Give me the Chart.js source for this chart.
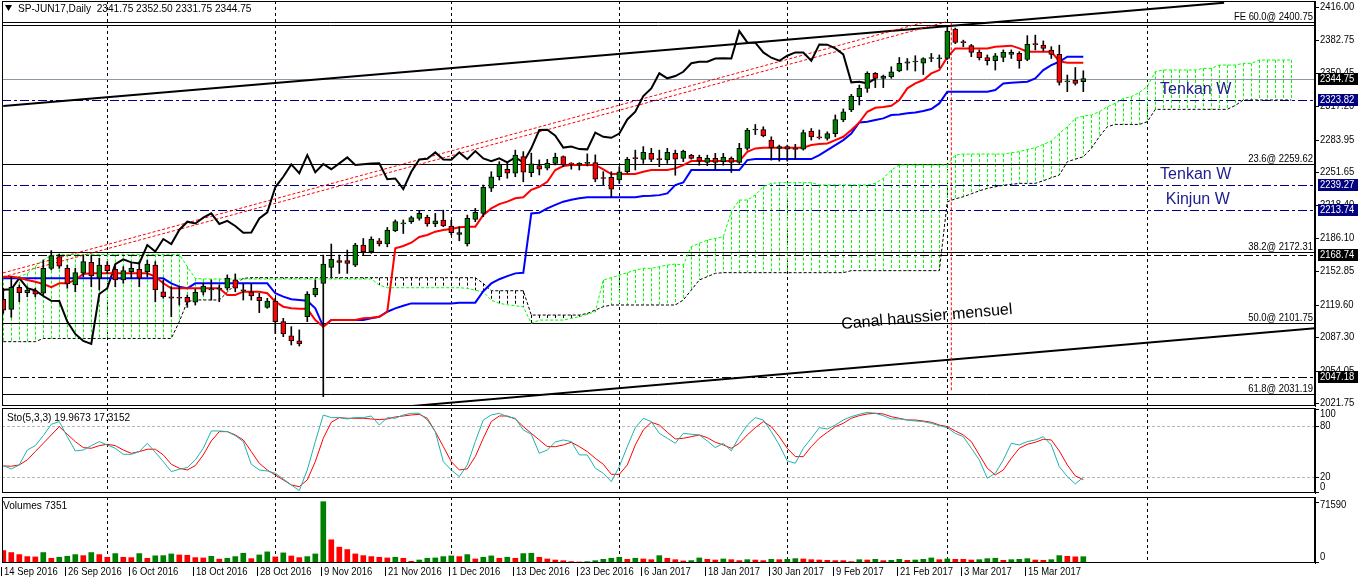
<!DOCTYPE html>
<html>
<head>
<meta charset="utf-8">
<title>SP-JUN17 Daily</title>
<script src="https://cdn.jsdelivr.net/npm/chart.js@4.4.1/dist/chart.umd.min.js"></script>
<style>
  html, body { margin: 0; padding: 0; background: #fff; }
  #wrap { position: relative; width: 1358px; height: 584px; overflow: hidden; background: #fff; }
  #wrap canvas { position: absolute; left: 0; }
</style>
</head>
<body>
<div id="wrap">
  <canvas id="priceChart" width="1358" height="407" style="top:0px"></canvas>
  <canvas id="stochChart" width="1358" height="87" style="top:407px"></canvas>
  <canvas id="volumeChart" width="1358" height="90" style="top:494px"></canvas>
</div>
<script>
//daily candles, bar 0 = 14 Sep 2016, bar 135 = 24 Mar 2017
const open = [
  2125, 2115, 2137, 2131.5, 2133.5, 2131, 2155.75, 2167.5, 2155.75, 2139.25,
  2151, 2161.75, 2146, 2159, 2154.75, 2144.25, 2152.5, 2154.75, 2152.5, 2159,
  2132.5, 2127.5, 2126.5, 2127, 2122, 2132, 2134.25, 2135, 2136, 2144.25,
  2133.5, 2132.5, 2127, 2117, 2123.25, 2102.75, 2088.5, 2083.75, 2107.75, 2129.25,
  2140.75, 2156.75, 2163.5, 2163.5, 2159, 2179, 2172.5, 2183.25, 2180, 2193.25,
  2200, 2202.25, 2205.5, 2206.5, 2200, 2203.75, 2198, 2189.5, 2180, 2204.5,
  2210.5, 2235.5, 2247, 2254.5, 2250.5, 2267, 2251, 2258, 2255.5, 2260.25,
  2267, 2259.75, 2258.75, 2260.25, 2261, 2245.5, 2246.5, 2243.75, 2252, 2265.25,
  2264.25, 2270.25, 2264.25, 2263.75, 2270.25, 2265.25, 2268.5, 2266.25, 2261.25, 2265.25,
  2262, 2265.25, 2261.25, 2275.25, 2293.5, 2294, 2283.5, 2275.25, 2277, 2274.5,
  2274.5, 2292.5, 2286, 2285.25, 2290, 2303.5, 2313.5, 2326.75, 2335, 2350,
  2345, 2346.5, 2352.25, 2360, 2361.25, 2360, 2364.75, 2364.5, 2364.75, 2394,
  2380.75, 2377.5, 2370.75, 2365.75, 2362.5, 2365.75, 2368.75, 2369.75, 2363.75, 2378.75,
  2378, 2373, 2368.75, 2341.5, 2343.25, 2341.75
];
const high = [
  2136, 2147.5, 2139.25, 2137.5, 2136, 2164, 2173.5, 2170, 2159, 2155.75,
  2169, 2169, 2165.75, 2162.5, 2157.5, 2157.5, 2160.75, 2162.5, 2164, 2162.5,
  2144.25, 2137.5, 2137.5, 2129.25, 2135, 2141, 2144.25, 2139.25, 2149.25, 2150.25,
  2140.75, 2140.75, 2131, 2126, 2126, 2106, 2097.75, 2094.5, 2132.5, 2144.25,
  2169, 2180, 2169, 2174, 2180.75, 2185.5, 2187.25, 2185.5, 2196.5, 2204,
  2204, 2207.75, 2213.25, 2208.75, 2210.5, 2213.75, 2203.75, 2197.25, 2208.75, 2215.5,
  2238.75, 2252, 2262, 2262, 2273.5, 2272, 2270.5, 2263.75, 2264.25, 2270.5,
  2267.75, 2261, 2261, 2269.75, 2268.75, 2252, 2252, 2257, 2266.25, 2273.5,
  2277, 2275.25, 2273.5, 2275.25, 2273.5, 2273.5, 2269.25, 2268.5, 2268.5, 2270.25,
  2270.25, 2266.75, 2280.25, 2295.25, 2299, 2296.75, 2286.75, 2278.5, 2278.5, 2279.25,
  2293.5, 2295, 2293.5, 2291.75, 2308.5, 2314.5, 2329, 2338.25, 2351.5, 2350.75,
  2348.25, 2356.5, 2365.75, 2364.75, 2367.5, 2365.5, 2369.75, 2368.25, 2397, 2395,
  2383, 2378.75, 2373.25, 2368.25, 2369.75, 2373.25, 2373.25, 2371.5, 2387.5, 2388,
  2382.25, 2376.5, 2378, 2348.25, 2355.75, 2352.5
];
const low = [
  2111, 2107, 2122.5, 2127.5, 2127.5, 2129.25, 2154.25, 2155.75, 2136, 2132.5,
  2147.5, 2137.5, 2134.25, 2150.75, 2137.5, 2141, 2146, 2137.5, 2147.5, 2122.5,
  2126, 2107.75, 2119.25, 2117, 2119.25, 2129.25, 2124.25, 2122.5, 2134.25, 2132.5,
  2124.25, 2124.25, 2111.75, 2116, 2091, 2087.75, 2079.5, 2078.5, 2102.75, 2127.5,
  2028, 2147.5, 2150.75, 2150.75, 2157.5, 2169, 2170.75, 2178, 2177.25, 2192.25,
  2190.5, 2200.5, 2203.75, 2197.75, 2197.25, 2197.25, 2189, 2183.25, 2178, 2202.25,
  2207.25, 2232.25, 2243.75, 2245.5, 2247, 2242, 2247, 2248.75, 2253.75, 2258.75,
  2257, 2254.5, 2253.75, 2257.75, 2242, 2238.75, 2226.5, 2240.5, 2250.5, 2253.75,
  2260.25, 2262, 2257, 2260.25, 2248.5, 2262, 2264.5, 2258.5, 2258, 2253.75,
  2258.5, 2251.25, 2260.25, 2273.5, 2289, 2286.75, 2263.5, 2262.5, 2262.5, 2264.5,
  2273.5, 2283.5, 2284.5, 2283.5, 2286.75, 2301.75, 2311.75, 2318.5, 2331, 2335.75,
  2335.75, 2345, 2351.5, 2353.25, 2352.25, 2348.75, 2361.5, 2355.5, 2363.75, 2379.5,
  2376.5, 2366.5, 2363.25, 2358.25, 2353.25, 2361.5, 2364.75, 2355, 2362.5, 2373.25,
  2372.25, 2364.75, 2338.25, 2331.75, 2338.25, 2331.75
];
const close = [
  2114.25, 2137, 2131.5, 2134.25, 2130, 2155.75, 2168.5, 2158, 2140.25, 2151.5,
  2162.5, 2148.25, 2159, 2153.5, 2144.25, 2153.5, 2155.75, 2146, 2160, 2134.25,
  2127.5, 2126, 2126, 2122, 2132, 2138.25, 2134.5, 2135, 2146, 2136,
  2133.75, 2128.25, 2123.5, 2123.25, 2102.75, 2090.5, 2083.5, 2080.5, 2130.25, 2136,
  2160, 2164.75, 2161.75, 2160.75, 2179, 2172.5, 2185, 2180, 2194, 2202.25,
  2200.5, 2206.25, 2210.5, 2200, 2203, 2198, 2191.25, 2191.5, 2205.5, 2211.5,
  2236.5, 2247, 2259.25, 2250.5, 2268.5, 2251.5, 2259.75, 2254.5, 2260.25, 2266.25,
  2258.75, 2259.5, 2260.25, 2260.5, 2244.5, 2245.25, 2234.75, 2252, 2264.25, 2265,
  2271.25, 2264.25, 2264, 2271.25, 2264.5, 2272.5, 2265.25, 2262.5, 2265.25, 2261.25,
  2266.25, 2261.25, 2275.25, 2293.5, 2293.75, 2287.75, 2276, 2277, 2274.5, 2274.25,
  2291, 2286.75, 2285.75, 2290, 2304, 2311.75, 2327.25, 2335, 2350, 2345,
  2347.25, 2351.5, 2360, 2361.5, 2361.5, 2364.75, 2365, 2364.75, 2392, 2380.75,
  2380.5, 2370.75, 2365.5, 2362.5, 2367.5, 2370.75, 2370.75, 2362.5, 2378.75, 2378.5,
  2374.75, 2368.75, 2341, 2341.5, 2340, 2344.75
];

//ichimoku lines
const tenkan = [
  2147.5, 2147.5, 2146.5, 2144.2, 2142.5, 2140.2, 2137, 2140.9, 2140.9, 2144.2,
  2150.2, 2150.8, 2150.8, 2150.8, 2150.8, 2150.8, 2150.8, 2150.8, 2150.8, 2147.5,
  2140.9, 2135.9, 2135.9, 2135.9, 2135.9, 2135.9, 2135.9, 2135.9, 2129.3, 2129.3,
  2132.6, 2132.6, 2132.6, 2131, 2122.6, 2117.6, 2116, 2115.5, 2115.5, 2104.4,
  2097.7, 2104.4, 2104.4, 2104.4, 2104.4, 2106, 2106.5, 2107.6, 2112.6, 2175.7,
  2178, 2181.3, 2187, 2189, 2192.3, 2194, 2195, 2196.6, 2197.3, 2197.3,
  2208.9, 2215.5, 2219.8, 2222.2, 2225.5, 2226.5, 2234, 2237, 2242, 2253.7,
  2257.7, 2258.7, 2258.7, 2258.7, 2258.7, 2254.4, 2249.7, 2249.7, 2249.7, 2249.7,
  2252, 2253.7, 2253.7, 2253.7, 2255.3, 2258.6, 2262.6, 2262.6, 2262.6, 2262.6,
  2262.6, 2262.6, 2262.6, 2271.9, 2275.2, 2275.9, 2275.9, 2275.9, 2275.9, 2275.9,
  2275.9, 2278.5, 2279.5, 2280.2, 2283.5, 2286.8, 2293.5, 2301.1, 2311.7, 2315.7,
  2316.5, 2317.7, 2323.3, 2335, 2339.9, 2343.3, 2349.9, 2353.2, 2366, 2374.8,
  2374.8, 2374.8, 2374.8, 2374.8, 2376.5, 2377, 2377.5, 2374.8, 2371.5, 2371.5,
  2371.5, 2371.5, 2362, 2360.5, 2360.5, 2360.5
];
const kijun = [
  2145.9, 2145.9, 2145.9, 2145.9, 2145.9, 2145.9, 2145.9, 2145.9, 2145.9, 2145.9,
  2145.9, 2145.9, 2145.9, 2145.9, 2145.9, 2145.9, 2145.9, 2145.9, 2145.9, 2145.9,
  2145.9, 2140.9, 2137.6, 2135.9, 2140.9, 2140.9, 2140.9, 2140.9, 2140.9, 2140.9,
  2140.9, 2140.9, 2140.9, 2140.9, 2131, 2127.6, 2125, 2124.3, 2123.6, 2116,
  2097.7, 2104.4, 2104.4, 2104.4, 2104.4, 2104.4, 2106, 2107.6, 2112.6, 2115.9,
  2118.5, 2120.9, 2120.9, 2120.9, 2120.9, 2120.9, 2120.9, 2121.6, 2121.6, 2121.6,
  2133, 2140.8, 2145, 2148, 2150.8, 2151.4, 2210.5, 2211.2, 2215.5, 2219,
  2222.2, 2224, 2225.5, 2226.5, 2226.5, 2226.5, 2226.5, 2226.5, 2226.5, 2226.5,
  2227.8, 2228, 2228.7, 2230.4, 2238.7, 2241.3, 2253.6, 2253.6, 2253.6, 2253.6,
  2253.6, 2253.6, 2253.6, 2263.6, 2264.6, 2264.6, 2264.6, 2264.6, 2264.6, 2264.6,
  2264.6, 2264.6, 2268.6, 2273.5, 2278.5, 2283.5, 2290.1, 2301.1, 2301.8, 2303.5,
  2305.1, 2308.4, 2309, 2310.1, 2311, 2312.5, 2314.4, 2320, 2331.6, 2331.6,
  2331.6, 2331.6, 2331.6, 2331.6, 2333.3, 2339.9, 2340.5, 2341, 2341.6, 2344.9,
  2353.2, 2358.2, 2361.5, 2366.5, 2366.5, 2366.5
];
//cloud, already shifted 26 bars forward (bars 0..161)
const senkouA = [
  2146.5, 2146.5, 2147.5, 2150.8, 2157.5, 2164.1, 2168.4, 2169.7, 2169.7, 2169.7,
  2169.7, 2169.7, 2169.7, 2169.7, 2169.7, 2169.7, 2169.7, 2169.7, 2169.7, 2169.7,
  2169.7, 2169.7, 2169.7, 2157.5, 2145.8, 2145.2, 2145.2, 2145.2, 2145.2, 2145.2,
  2145.2, 2145.2, 2145.2, 2145.2, 2145.2, 2145.2, 2145.2, 2145.2, 2145.2, 2145.2,
  2145.2, 2145.2, 2145.2, 2145.2, 2145.2, 2145.2, 2145.2, 2139.2, 2136.5, 2136.5,
  2136.5, 2136.5, 2136.5, 2136.5, 2136.5, 2136.5, 2136.5, 2136.5, 2135.9, 2134,
  2132.5, 2124, 2121, 2119.5, 2118.5, 2117.6, 2101, 2104.3, 2104.3, 2104.3,
  2104.3, 2106, 2107.6, 2110, 2112.6, 2144.2, 2146.5, 2149.1, 2151.5, 2154.1,
  2155.8, 2155.8, 2157.5, 2159, 2160.1, 2159.1, 2177.4, 2180.7, 2184, 2185.5,
  2187.3, 2212.2, 2223.8, 2223.8, 2228.8, 2237.1, 2240.4, 2241.1, 2241.1, 2241.1,
  2241.1, 2241.1, 2238.8, 2238.8, 2238.8, 2238.8, 2238.8, 2238.8, 2238.8, 2240.4,
  2245.4, 2253.7, 2258.7, 2258.7, 2258.7, 2258.7, 2258.7, 2258.7, 2258.7, 2268.6,
  2269.6, 2269.6, 2269.6, 2269.6, 2269.6, 2269.6, 2270.9, 2271.9, 2274.2, 2275.9,
  2279.2, 2282.5, 2290.2, 2296.8, 2305.1, 2307.4, 2308.4, 2311.8, 2316.7, 2320.1,
  2325, 2326.7, 2331, 2336.7, 2351.6, 2353.3, 2353.3, 2353.3, 2353.3, 2353.3,
  2354.9, 2354.9, 2358.2, 2358.2, 2358.2, 2359.9, 2359.9, 2363.2, 2363.2, 2363.2,
  2363.2, 2363.2
];
const senkouB = [
  2082.8, 2082.8, 2082.8, 2082.8, 2082.8, 2086, 2086, 2086, 2086, 2086,
  2086, 2086, 2086, 2086, 2086, 2086, 2086, 2086, 2086, 2086,
  2086, 2086, 2102.7, 2122.6, 2124.3, 2124.3, 2124.3, 2124.3, 2132, 2140,
  2145.8, 2146.5, 2146.5, 2146.5, 2146.5, 2146.5, 2146.5, 2146.5, 2146.5, 2146.5,
  2146.5, 2146.5, 2146.5, 2146.5, 2146.5, 2146.5, 2146.5, 2146.5, 2146.5, 2146.5,
  2146.5, 2146.5, 2146.5, 2146.5, 2146.5, 2146.5, 2146.5, 2146.5, 2146.5, 2146.5,
  2140.8, 2133.5, 2133.5, 2133.5, 2133.5, 2133.5, 2109.3, 2109.3, 2109.3, 2109.3,
  2109.3, 2109.3, 2109.3, 2110.9, 2114.3, 2117.6, 2119.3, 2119.3, 2119.3, 2119.3,
  2119.3, 2119.3, 2119.3, 2119.3, 2119.3, 2124.3, 2134.2, 2144.2, 2147.5, 2150.8,
  2151.5, 2151.5, 2151.5, 2151.5, 2151.5, 2151.5, 2151.5, 2151.5, 2151.5, 2151.5,
  2151.5, 2151.5, 2151.5, 2151.5, 2151.5, 2151.5, 2153.5, 2153.5, 2153.5, 2153.5,
  2153.5, 2153.5, 2153.5, 2153.5, 2153.5, 2153.5, 2153.5, 2153.5, 2222.1, 2225,
  2227.1, 2230, 2233, 2235.4, 2237, 2238.5, 2239.4, 2240.4, 2240.4, 2240.4,
  2243, 2246, 2248.7, 2262, 2264.5, 2266.9, 2275.2, 2286.9, 2296.8, 2299.1,
  2299.1, 2299.1, 2299.1, 2301.8, 2314.1, 2314.1, 2314.1, 2314.1, 2314.1, 2314.1,
  2314.1, 2314.1, 2314.1, 2314.1, 2318, 2323.4, 2323.4, 2323.4, 2323.4, 2323.4,
  2323.4, 2323.4
];

//stochastic (5,3,3)
const stochMain = [
  33.7, 29.8, 34.5, 52.1, 57.2, 69, 82.3, 85.5, 67.8, 51,
  52.1, 57.2, 62, 58, 54.1, 47, 47, 50.2, 60, 49.4,
  38.4, 26.7, 29.4, 31.4, 40.4, 54.1, 74.5, 74.5, 73.7, 69,
  62, 35.3, 28.6, 27.4, 24.7, 18, 11, 4.3, 28.6, 62,
  93.3, 90.2, 90.2, 88.6, 90.2, 90.2, 92.1, 81.5, 90.2, 89.4,
  93.3, 95.3, 95.3, 87.4, 73.7, 38.4, 28.6, 20.8, 34.5, 62,
  87.4, 93.3, 95.3, 91.3, 89.4, 75.7, 70.6, 48.2, 52.1, 61.5,
  63.9, 62, 46.3, 46.3, 30.6, 24.7, 14.9, 32.5, 56.1, 78.4,
  89.4, 85.5, 71.7, 65.9, 60, 71.7, 70.6, 69.8, 62.7, 54.9,
  60, 51, 67.8, 81.5, 90.2, 87.4, 73.7, 58, 39.2, 36.5,
  54.1, 65.9, 78.4, 76.8, 81.5, 87.4, 91.3, 94.1, 96.4, 95.3,
  92.5, 88.6, 88.6, 87.4, 86.2, 85.5, 83.5, 80.8, 78.4, 71.7,
  67.8, 54.1, 40.4, 18.8, 24.7, 40.4, 60, 58, 62, 63.9,
  67.8, 58, 32.5, 20.8, 12.2, 19.97
];
const stochSignal = [
  33.3, 33, 34.5, 40.4, 50.2, 60, 69.8, 79.6, 70.6, 62,
  54.9, 54.1, 57.2, 58.8, 57.2, 52.1, 48.2, 50.2, 53, 53,
  46.3, 35.3, 30.6, 28.6, 33.7, 46.3, 62.7, 73.7, 73.7, 69.8,
  63.9, 50.2, 36.5, 28.6, 22.7, 16.9, 11, 9, 16.9, 38.4,
  65.9, 84.7, 90.2, 89.4, 89.4, 89.4, 88.6, 87.8, 88.6, 91,
  92.1, 93.3, 94.1, 89.4, 73.7, 56.1, 38.4, 28.6, 29.8, 44.3,
  65.9, 85.5, 92.1, 92.1, 88.6, 79.6, 71.7, 63.9, 56.1, 56,
  58, 61.2, 56.1, 50.2, 42.3, 35.3, 23.5, 23.5, 34.5, 58,
  75.7, 84.7, 81.5, 72.9, 65.1, 65.9, 67.8, 69.8, 66.6, 61.2,
  58, 54.1, 60, 69.8, 78.4, 85.5, 79.6, 67.8, 54.1, 44.3,
  44.3, 56.1, 65.9, 72.9, 79.6, 83.5, 89.4, 92.5, 94.5, 95.3,
  94.5, 91.3, 89.4, 87.4, 87.4, 86.2, 84.7, 81.5, 79.6, 74.5,
  69.8, 62, 46.3, 30.6, 22.7, 28.6, 42.3, 54.1, 58.8, 61.2,
  64.7, 63.9, 51, 34.5, 21.6, 17.32
];

//volumes
const volume = [
  14500, 12200, 9800, 7500, 7100, 12200, 5500, 6700, 7900, 9800,
  8600, 12200, 9800, 6700, 11000, 6700, 6300, 11000, 5500, 8400,
  8600, 10600, 9400, 9000, 6300, 5900, 7800, 4500, 5500, 7500,
  11400, 5100, 9400, 13000, 7100, 11800, 8200, 6300, 7500, 10600,
  71590, 27100, 18500, 15700, 10600, 8600, 7500, 6700, 5900, 6700,
  5500, 2000, 3500, 5500, 5900, 7500, 8300, 7500, 9800, 4700,
  6700, 8300, 5500, 6700, 5500, 11000, 11400, 6700, 4700, 3500,
  2700, 1600, 1200, 1600, 2700, 4300, 5500, 6700, 4300, 5500,
  4700, 3900, 8600, 5500, 3900, 2400, 2800, 5900, 4300, 3500,
  4700, 3900, 2800, 3900, 3500, 2800, 4300, 3900, 4300, 5100,
  4700, 3900, 3500, 3100, 2800, 2800, 1600, 3900, 3500, 4300,
  2800, 3100, 4300, 3100, 3500, 4300, 5900, 3900, 4700, 4300,
  4300, 3500, 3900, 5100, 5500, 3100, 3900, 4300, 5100, 3500,
  3100, 3900, 8650, 7800, 7200, 7351
];

//axis labels
const priceTicks = [2416.00, 2382.75, 2350.45, 2317.20, 2283.95, 2251.65, 2218.40, 2186.10, 2152.85, 2119.60, 2087.30, 2054.05, 2021.75];
const dateBars = [0, 8, 16, 24, 32, 40, 48, 56, 64, 72, 80, 88, 96, 104, 112, 120, 128];
const dateLabels = ['14 Sep 2016', '26 Sep 2016', '6 Oct 2016', '18 Oct 2016', '28 Oct 2016', '9 Nov 2016', '21 Nov 2016', '1 Dec 2016',
  '13 Dec 2016', '23 Dec 2016', '6 Jan 2017', '18 Jan 2017', '30 Jan 2017', '9 Feb 2017', '21 Feb 2017', '3 Mar 2017', '15 Mar 2017'];
const monthBars = [13, 34, 56, 77, 98, 118, 143];

//chart objects: levels, trend lines, notes
const fiboLevels = [2400.75, 2259.62, 2172.31, 2101.75, 2031.19];
const fiboTexts = ['0.0@ 2400.75', '23.6@ 2259.62', '38.2@ 2172.31', '50.0@ 2101.75', '61.8@ 2031.19'];
const solidLevels = [2397.8];
const blackDashLevels = [2168.74, 2047.18];
const navyLevels = [2323.82, 2239.27, 2213.74];
const lastPrice = 2344.75;
const channelTop = [[0, 2317.4], [152.6, 2420.3]];
const channelBottom = [[49.7, 2017.8], [164, 2096.2]];
const redLines = [[[-0.04, 2147.2], [117.8, 2401.1]], [[-0.04, 2151.2], [115.2, 2401.1]], [[118.5, 2400.75], [118.5, 2034]]];
const notes = [['Tenkan W', 144.6, 2333.4], ['Tenkan W', 144.6, 2248.7], ['Kinjun W', 145.3, 2223.8]];
const canalNote = ['Canal haussier mensuel', 104.8, 2095.5];
const priceBoxes = [[2344.75, '#000000'], [2323.82, '#000080'], [2239.27, '#000080'], [2213.74, '#000080'], [2168.74, '#000000'], [2047.18, '#000000']];

const FONT = "11px 'Liberation Sans', Arial, sans-serif";
const NARROW = 0.86;
const XMIN = -0.16, XMAX = 163.96;
const AXIS_W = 43;

function pts(arr) {
    return arr.map((v, i) => ({x: i, y: v}));
}

//small terminal-style text, squeezed horizontally
function smallText(ctx, text, x, y, align, squeeze) {
    ctx.save();
    ctx.font = FONT;
    ctx.textAlign = align || 'left';
    ctx.translate(x, y);
    ctx.scale(squeeze || NARROW, 1);
    ctx.fillText(text, 0, 0);
    ctx.restore();
}

function baseOptions(yMin, yMax, padTop, padBottom) {
    return {
        responsive: false,
        animation: false,
        events: [],
        layout: {padding: {left: 2, right: 0, top: padTop, bottom: padBottom}},
        plugins: {legend: {display: false}, tooltip: {enabled: false}},
        scales: {
            x: {type: 'linear', min: XMIN, max: XMAX, display: false, offset: false},
            y: {
                position: 'right', min: yMin, max: yMax,
                afterFit: function(s) { s.width = AXIS_W; },
                grid: {display: false},
                ticks: {display: false},
                border: {display: true, color: '#000'}
            }
        }
    };
}

//dashed monthly separators, shared by the three panels
function drawMonthGrid(chart) {
    const {ctx, chartArea: a, scales: {x}} = chart;
    ctx.save();
    ctx.strokeStyle = '#000';
    ctx.lineWidth = 1;
    ctx.setLineDash([3, 3]);
    monthBars.forEach(b => {
        const px = Math.round(x.getPixelForValue(b)) + 0.5;
        ctx.beginPath();
        ctx.moveTo(px, a.top);
        ctx.lineTo(px, a.bottom);
        ctx.stroke();
    });
    ctx.restore();
}

function drawFrame(chart) {
    const {ctx, chartArea: a} = chart;
    ctx.save();
    ctx.strokeStyle = '#000';
    ctx.lineWidth = 1;
    ctx.strokeRect(a.left + 0.5, a.top + 0.5, a.right - a.left - 1, a.bottom - a.top - 1);
    ctx.restore();
}

//right axis labels with a small tick mark, clamped inside the panel
function drawAxisLabels(chart, items, clampTop, clampBottom) {
    const {ctx, chartArea: a, scales: {y}} = chart;
    ctx.save();
    ctx.fillStyle = '#000';
    ctx.strokeStyle = '#000';
    ctx.lineWidth = 1;
    ctx.textBaseline = 'middle';
    items.forEach(([v, txt]) => {
        const py = y.getPixelForValue(v);
        if (py < a.top - 4 || py > a.bottom + 4) return;
        const ty = Math.min(Math.max(py, a.top + clampTop), a.bottom - clampBottom);
        const ly = Math.round(Math.min(Math.max(py, a.top), a.bottom - 1)) + 0.5;
        ctx.beginPath();
        ctx.moveTo(a.right, ly);
        ctx.lineTo(a.right + 4, ly);
        ctx.stroke();
        smallText(ctx, txt, a.right + 5, ty);
    });
    ctx.restore();
}

function hLine(chart, value, color, dash) {
    const {ctx, chartArea: a, scales: {y}} = chart;
    const py = Math.round(y.getPixelForValue(value)) + 0.5;
    ctx.strokeStyle = color;
    ctx.setLineDash(dash);
    ctx.beginPath();
    ctx.moveTo(a.left, py);
    ctx.lineTo(a.right, py);
    ctx.stroke();
}

function segment(chart, p1, p2, color, width, dash) {
    const {ctx, scales: {x, y}} = chart;
    ctx.strokeStyle = color;
    ctx.lineWidth = width;
    ctx.setLineDash(dash);
    ctx.beginPath();
    ctx.moveTo(x.getPixelForValue(p1[0]), y.getPixelForValue(p1[1]));
    ctx.lineTo(x.getPixelForValue(p2[0]), y.getPixelForValue(p2[1]));
    ctx.stroke();
}

const mainObjects = {
    id: 'mainObjects',
    beforeDatasetsDraw(chart) {
        const {ctx, chartArea: a, scales: {x, y}} = chart;
        ctx.save();
        ctx.beginPath();
        ctx.rect(a.left, a.top, a.right - a.left, a.bottom - a.top);
        ctx.clip();
        drawMonthGrid(chart);

        //cloud hatch: green when span A is above span B
        ctx.lineWidth = 1;
        ctx.setLineDash([3, 2]);
        senkouA.forEach((sa, i) => {
            const sb = senkouB[i];
            const px = Math.round(x.getPixelForValue(i)) + 0.5;
            ctx.strokeStyle = sa >= sb ? '#00ff00' : '#000000';
            ctx.beginPath();
            ctx.moveTo(px, y.getPixelForValue(Math.max(sa, sb)));
            ctx.lineTo(px, y.getPixelForValue(Math.min(sa, sb)));
            ctx.stroke();
        });

        ctx.lineWidth = 1;
        fiboLevels.forEach(v => hLine(chart, v, '#000', []));
        solidLevels.forEach(v => hLine(chart, v, '#000', []));
        blackDashLevels.forEach(v => hLine(chart, v, '#000', [9, 3, 3, 3]));
        navyLevels.forEach(v => hLine(chart, v, '#000080', [9, 3, 3, 3]));
        hLine(chart, lastPrice, '#8c98a4', []);

        segment(chart, channelTop[0], channelTop[1], '#000', 2, []);
        segment(chart, channelBottom[0], channelBottom[1], '#000', 2, []);
        redLines.forEach(l => segment(chart, l[0], l[1], '#ff0000', 1, [3, 2]));
        ctx.restore();
    },
    afterDatasetsDraw(chart) {
        const {ctx, chartArea: a, scales: {x, y}} = chart;
        ctx.save();
        //fibo level texts
        ctx.fillStyle = '#000';
        ctx.textBaseline = 'alphabetic';
        fiboLevels.forEach((v, i) => {
            smallText(ctx, fiboTexts[i], a.right - 2, Math.round(y.getPixelForValue(v)) - 2, 'right');
        });
        smallText(ctx, 'FE 6', 1254, Math.round(y.getPixelForValue(fiboLevels[0])) - 2, 'right');

        //notes
        ctx.font = '16px "Liberation Sans", Arial, sans-serif';
        ctx.fillStyle = '#1c1c8c';
        ctx.textAlign = 'left';
        ctx.textBaseline = 'middle';
        notes.forEach(([t, bx, by]) => ctx.fillText(t, x.getPixelForValue(bx), y.getPixelForValue(by)));

        ctx.save();
        ctx.fillStyle = '#000';
        ctx.textBaseline = 'alphabetic';
        ctx.translate(x.getPixelForValue(canalNote[1]), y.getPixelForValue(canalNote[2]));
        ctx.rotate(-5 * Math.PI / 180);
        ctx.fillText(canalNote[0], 0, 0);
        ctx.restore();

        //header
        ctx.fillStyle = '#000';
        ctx.beginPath();
        ctx.moveTo(5, 5);
        ctx.lineTo(12, 5);
        ctx.lineTo(8.5, 11);
        ctx.closePath();
        ctx.fill();
        ctx.textBaseline = 'middle';
        smallText(ctx, 'SP-JUN17,Daily  2341.75 2352.50 2331.75 2344.75', 18, 9, 'left', 0.92);
        ctx.restore();
    },
    afterDraw(chart) {
        drawFrame(chart);
        drawAxisLabels(chart, priceTicks.map(v => [v, v.toFixed(2)]), 0, 0);
        const {ctx, chartArea: a, scales: {y}} = chart;
        ctx.save();
        ctx.textBaseline = 'middle';
        priceBoxes.forEach(([v, bg]) => {
            const py = y.getPixelForValue(v);
            ctx.fillStyle = bg;
            ctx.fillRect(a.right + 3, Math.round(py) - 6, 1358 - a.right - 3, 12);
            ctx.fillStyle = '#fff';
            smallText(ctx, v.toFixed(2), a.right + 5, py);
        });
        ctx.restore();
    }
};

const bodyColors = open.map((o, i) => close[i] >= o ? '#008000' : '#ff0000');

new Chart(document.getElementById('priceChart'), {
    type: 'bar',
    data: {
        datasets: [
            {
                type: 'bar', label: 'bodies',
                data: open.map((o, i) => ({x: i, y: [o, close[i]]})),
                backgroundColor: bodyColors, borderColor: '#000', borderWidth: 1,
                borderSkipped: false, barThickness: 5, minBarLength: 1, grouped: false, order: 1
            },
            {
                type: 'bar', label: 'wicks',
                data: high.map((h, i) => ({x: i, y: [low[i], h]})),
                backgroundColor: '#000', borderWidth: 0, barThickness: 1, grouped: false, order: 2
            },
            {type: 'line', label: 'Tenkan', data: pts(tenkan), borderColor: '#ff0000', borderWidth: 2, pointRadius: 0, tension: 0, order: 3},
            {type: 'line', label: 'Kijun', data: pts(kijun), borderColor: '#0000ff', borderWidth: 2, pointRadius: 0, tension: 0, order: 4},
            {type: 'line', label: 'Chikou', data: pts(close.slice(26)), borderColor: '#000', borderWidth: 2, pointRadius: 0, tension: 0, order: 5},
            {type: 'line', label: 'Senkou A', data: pts(senkouA), borderColor: '#00ff00', borderWidth: 1, borderDash: [3, 2], pointRadius: 0, tension: 0, order: 6},
            {type: 'line', label: 'Senkou B', data: pts(senkouB), borderColor: '#000', borderWidth: 1, borderDash: [3, 2], pointRadius: 0, tension: 0, order: 6}
        ]
    },
    options: baseOptions(2018.75, 2421.97, 1, 1),
    plugins: [mainObjects]
});

//stochastic panel
const stochPanel = {
    id: 'stochPanel',
    beforeDatasetsDraw(chart) {
        const {ctx} = chart;
        ctx.save();
        ctx.lineWidth = 1;
        [20, 80].forEach(v => hLine(chart, v, '#b8b8b8', [3, 2]));
        ctx.restore();
        drawMonthGrid(chart);
    },
    afterDraw(chart) {
        drawFrame(chart);
        drawAxisLabels(chart, [[100, '100'], [80, '80'], [20, '20'], [0, '0']], 6, 6);
        const {ctx} = chart;
        ctx.save();
        ctx.fillStyle = '#000';
        ctx.textBaseline = 'middle';
        smallText(ctx, 'Sto(5,3,3) 19.9673 17.3152', 7, 11, 'left', 0.92);
        ctx.restore();
    }
};

new Chart(document.getElementById('stochChart'), {
    type: 'line',
    data: {
        datasets: [
            {label: 'Main', data: pts(stochMain), borderColor: '#20b2aa', borderWidth: 1, pointRadius: 0, tension: 0},
            {label: 'Signal', data: pts(stochSignal), borderColor: '#ff0000', borderWidth: 1, pointRadius: 0, tension: 0}
        ]
    },
    options: baseOptions(1.5, 101.5, 1, 1),
    plugins: [stochPanel]
});

//volume panel, bar green when volume rises vs previous bar
const volColors = volume.map((v, i) => (i > 0 && v > volume[i - 1]) ? '#008000' : '#ff0000');

const volumePanel = {
    id: 'volumePanel',
    beforeDatasetsDraw(chart) {
        drawMonthGrid(chart);
    },
    afterDraw(chart) {
        drawFrame(chart);
        drawAxisLabels(chart, [[71590, '71590'], [0, '0']], 8, 6);
        const {ctx, chartArea: a, scales: {x}} = chart;
        ctx.save();
        ctx.fillStyle = '#000';
        ctx.strokeStyle = '#000';
        ctx.lineWidth = 1;
        ctx.textBaseline = 'middle';
        smallText(ctx, 'Volumes 7351', 3, 12, 'left', 0.92);
        dateBars.forEach((b, i) => {
            const px = Math.round(x.getPixelForValue(b)) - 1.5;
            ctx.beginPath();
            ctx.moveTo(px, a.bottom + 4);
            ctx.lineTo(px, a.bottom + 13);
            ctx.stroke();
            smallText(ctx, dateLabels[i], px + 2.5, a.bottom + 9);
        });
        ctx.restore();
    }
};

new Chart(document.getElementById('volumeChart'), {
    type: 'bar',
    data: {
        datasets: [{
            label: 'Volumes',
            data: pts(volume),
            backgroundColor: volColors,
            borderWidth: 0,
            barThickness: 5,
            grouped: false
        }]
    },
    options: baseOptions(0, 77080, 3, 21),
    plugins: [volumePanel]
});
</script>
</body>
</html>
